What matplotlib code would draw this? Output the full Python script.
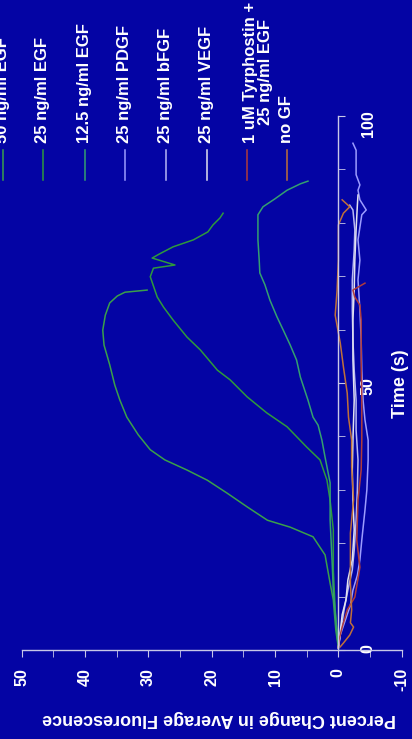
'''Growth factor response: percent change in fluorescence vs time
(drawn on its side, as in the scanned slide)
'''
import matplotlib.pyplot as plt
from matplotlib.lines import Line2D
from matplotlib.ticker import MultipleLocator

plt.rcParams['font.family'] = ['Liberation Sans', 'DejaVu Sans']
plt.rcParams['font.weight'] = 'bold'
plt.rcParams['axes.unicode_minus'] = False

labels = ['50 ng/ml EGF', '25 ng/ml EGF', '12.5 ng/ml EGF', '25 ng/ml PDGF',
          '25 ng/ml bFGF', '25 ng/ml VEGF', '1 uM Tyrphostin +\n25 ng/ml EGF', 'no GF']
colors = ['#3aa04a', '#2e9a3c', '#34a070', '#9c9cff', '#b8b8f4', '#e2e2ee', '#b03c3c', '#c0703a']

# time (s) / percent change
egf50_t = [0.4, 3.7, 9.4, 12.5, 17.8, 21.2, 23.0, 24.3, 26.8, 29.4, 31.8, 33.7, 35.6, 37.5,
           40.3, 43.6, 46.8, 49.6, 53.4, 57.1, 59.9, 62.7, 65.0, 66.3, 67.0, 67.4]
egf50_p = [0.0, 0.4, 0.8, 1.3, 2.1, 4.0, 7.6, 11.2, 14.4, 17.6, 20.7, 23.9, 27.4, 29.7,
           31.6, 33.4, 34.5, 35.3, 36.1, 37.0, 37.2, 36.8, 36.1, 34.9, 33.7, 30.2]

egf25_t = [0.4, 7.5, 15.0, 22.5, 28.0, 31.8, 35.6, 38.0, 41.8, 44.4, 47.4, 50.6, 52.4, 56.2,
           58.6, 61.8, 64.2, 66.1, 69.9, 71.5, 72.1, 73.4, 74.2, 75.5, 76.8, 78.3, 79.6, 80.9, 81.8]
egf25_p = [0.0, 0.5, 0.8, 0.8, 1.3, 1.8, 2.9, 5.0, 8.1, 11.3, 14.4, 17.1, 19.1, 21.8,
           23.9, 26.1, 27.6, 28.6, 29.7, 29.2, 25.8, 29.4, 28.2, 26.1, 22.9, 20.6, 19.8, 18.7, 18.2]

egf12_t = [0.4, 5.6, 11.2, 16.9, 24.3, 31.3, 36.1, 39.3, 42.1, 43.6, 46.8, 51.1, 54.3, 57.1,
           59.9, 62.4, 65.5, 68.4, 70.6, 73.0, 76.8, 79.6, 81.5, 83.0, 84.5, 86.1, 87.3, 87.8]
egf12_p = [0.0, 0.4, 0.8, 1.0, 1.3, 1.3, 2.1, 2.6, 3.2, 4.0, 4.8, 6.0, 6.6, 7.6,
           8.7, 9.7, 10.8, 11.6, 12.4, 12.5, 12.7, 12.7, 12.7, 11.9, 10.0, 8.1, 6.0, 4.8]

pdgf_t = [0.4, 2.8, 5.6, 8.4, 11.2, 14.0, 16.9, 20.6, 26.2, 30.0, 35.6, 39.3, 43.1, 46.8,
          52.4, 58.1, 63.7, 69.3, 73.0, 76.8, 81.5, 82.4, 84.3, 86.1, 87.1, 89.0, 93.6, 94.9]
pdgf_p = [0.0, -0.3, -1.1, -1.9, -2.3, -3.0, -3.4, -3.7, -4.2, -4.5, -4.7, -4.7, -4.2, -3.9,
          -3.7, -3.6, -3.4, -3.1, -3.4, -3.1, -3.7, -4.4, -3.4, -3.1, -3.4, -2.8, -2.8, -2.3]

bfgf_t = [0.4, 3.7, 7.5, 11.2, 15.0, 18.7, 24.3, 30.0, 35.6, 41.2, 46.8, 52.4, 58.1, 63.7,
          69.3, 74.9, 78.7, 82.4, 83.3]
bfgf_p = [0.0, -0.4, -0.9, -1.5, -2.2, -2.5, -2.8, -3.0, -3.1, -2.8, -2.8, -2.5, -2.3, -2.2,
          -2.2, -2.5, -2.6, -2.3, -1.8]

vegf_t = [0.4, 3.4, 6.6, 9.4, 13.1, 16.9, 22.5, 28.1, 33.7, 39.3, 46.8, 54.3, 61.8, 67.4,
          73.0, 78.7, 83.3, 85.2]
vegf_p = [0.0, -0.3, -0.6, -1.2, -1.5, -2.2, -2.5, -2.3, -2.2, -2.3, -2.5, -2.3, -2.3, -2.5,
          -2.6, -2.8, -3.0, -3.1]

tyr_t = [0.4, 1.9, 4.3, 7.5, 9.9, 15.5, 20.6, 28.1, 33.7, 39.3, 46.8, 54.3, 61.8, 64.6,
         66.1, 67.4, 68.7]
tyr_p = [0.0, -0.1, -0.6, -1.4, -2.6, -3.4, -2.9, -3.1, -3.6, -3.7, -3.7, -3.6, -3.6, -3.4,
         -2.6, -2.3, -4.2]

nogf_t = [0.6, 1.3, 2.8, 4.3, 5.1, 7.5, 12.5, 21.9, 28.1, 34.3, 39.3, 43.6, 48.1, 53.0,
          57.5, 59.4, 62.7, 67.4, 73.0, 79.6, 81.8, 83.0, 84.3]
nogf_p = [-0.3, -0.8, -1.8, -2.4, -1.9, -2.1, -1.9, -1.9, -2.4, -2.1, -2.1, -1.6, -1.4, -0.8,
          -0.3, 0.0, 0.5, 0.2, 0.0, 0.0, -0.8, -1.8, -0.6]

series = [(egf50_t, egf50_p), (egf25_t, egf25_p), (egf12_t, egf12_p), (pdgf_t, pdgf_p),
          (bfgf_t, bfgf_p), (vegf_t, vegf_p), (tyr_t, tyr_p), (nogf_t, nogf_p)]

BG = '#0404a4'
AXC = '#c8c8e8'
W, H = 412, 739


def fx(px):
    return px / W


def fy(py):
    return 1 - py / H


fig = plt.figure(figsize=(W / 100, H / 100), dpi=100, facecolor=BG)
ax = fig.add_axes([fx(21.7), fy(650), 380 / W, 534 / H], facecolor=BG)

# percent change runs right-to-left, time runs upward
for (t, p), c in zip(series, colors):
    ax.plot(p, t, color=c, lw=1.1)

ax.set_xlim(50, -10)
ax.set_ylim(0, 100)

ax.spines['top'].set_visible(False)
ax.spines['left'].set_visible(False)
ax.spines['right'].set_position(('data', 0))
for s in ('bottom', 'right'):
    ax.spines[s].set_color(AXC)
    ax.spines[s].set_linewidth(1)

ax.xaxis.set_major_locator(MultipleLocator(10))
ax.xaxis.set_minor_locator(MultipleLocator(5))
ax.yaxis.set_major_locator(MultipleLocator(50))
ax.yaxis.set_minor_locator(MultipleLocator(10))
ax.yaxis.tick_right()

ax.tick_params(axis='x', which='both', direction='out', length=5, color=AXC,
               labelcolor='white', labelsize=11.5, labelrotation=90, pad=8)
ax.tick_params(axis='y', which='both', direction='out', length=5, color=AXC,
               labelcolor='white', labelsize=11.5, labelrotation=90, pad=11)

ax.set_xlabel('Percent Change in Average Fluorescence', color='white', fontsize=13,
              fontweight='bold', rotation=180, va='center', ha='center')
ax.xaxis.set_label_coords((219 - 21.7) / 380, (650 - 718) / 534)
ax.set_ylabel('Time (s)', color='white', fontsize=13, fontweight='bold',
              rotation=90, va='center', ha='center')
ax.yaxis.set_label_coords((400 - 21.7) / 380, (650 - 384) / 534)

# legend, laid along the top edge
leg_x = [2.7, 42.7, 85, 125, 165.7, 206.7, 246.7, 286.7]
for x, lab, c in zip(leg_x, labels, colors):
    fig.add_artist(Line2D([fx(x), fx(x)], [fy(150), fy(180)], color=c, lw=1.1))
    tx = x + 11 if '\n' in lab else x
    fig.text(fx(tx), fy(143), lab, rotation=90, ha='center', va='bottom',
             color='white', fontsize=12, fontweight='bold', linespacing=1.0)

fig.savefig('out.png', dpi=100, facecolor=BG)
